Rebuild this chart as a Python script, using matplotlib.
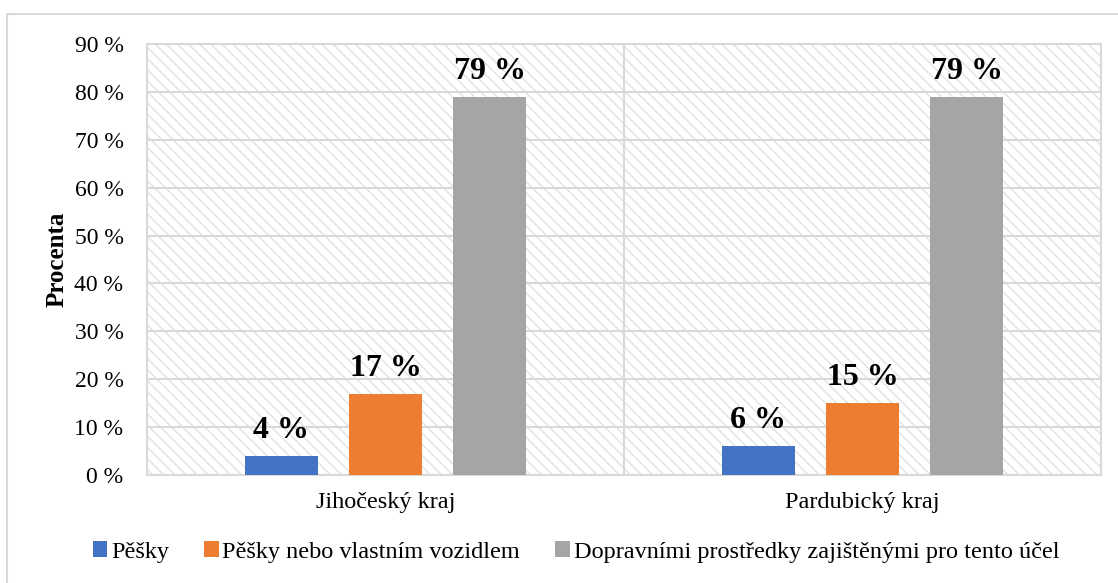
import matplotlib.pyplot as plt
from matplotlib.patches import Rectangle
import numpy as np

plt.rcParams['font.family'] = ['Liberation Serif', 'DejaVu Serif']
plt.rcParams['hatch.color'] = '#e2e2e2'
plt.rcParams['hatch.linewidth'] = 1.0

regions = ['Jihočeský kraj', 'Pardubický kraj']
series = ['Pěšky', 'Pěšky nebo vlastním vozidlem',
          'Dopravními prostředky zajištěnými pro tento účel']
values = [
    [4, 6],
    [17, 15],
    [79, 79],
]
colors = ['#4472C4', '#ED7D31', '#A5A5A5']

fig = plt.figure(figsize=(11.18, 5.83), dpi=100)
fig.patches.append(Rectangle((7 / 1118, -0.1), 1.2, 1.1 - 14 / 583,
                             transform=fig.transFigure, fill=False,
                             edgecolor='#d9d9d9', linewidth=1.5))
ax = fig.add_axes([147 / 1118, 1 - 475 / 583, (1101 - 147) / 1118, (475 - 44) / 583])

ax.patch.set_facecolor('white')
ax.patch.set_hatch('\\' * 3)
ax.patch.set_edgecolor('#e2e2e2')

x = np.arange(len(regions))
offsets = [-0.219, 0, 0.219]
for vals, off, col, name in zip(values, offsets, colors, series):
    bars = ax.bar(x + off, vals, width=0.153, color=col, label=name, zorder=3)
    for b, v in zip(bars, vals):
        ax.text(b.get_x() + b.get_width() / 2, v + 2.3, f'{v} %', ha='center',
                va='bottom', fontsize=23, fontweight='bold', zorder=4)

ax.set_xlim(-0.5, 1.5)
ax.set_ylim(0, 90)
ax.set_yticks(range(0, 91, 10))
ax.set_yticklabels([f'{t} %' for t in range(0, 91, 10)], fontsize=17)
ax.set_xticks(x)
ax.set_xticklabels(regions, fontsize=17.5)
ax.tick_params(axis='y', length=0, pad=17)
ax.tick_params(axis='x', length=0, pad=12)

ax.yaxis.grid(True, color='#d9d9d9', linewidth=1.5, zorder=1)
ax.axvline(0.5, color='#d9d9d9', linewidth=1.5, zorder=1)
ax.set_axisbelow(True)
for s in ax.spines.values():
    s.set_color('#d9d9d9')
    s.set_linewidth(1.5)

ax.set_ylabel('Procenta', fontsize=18, fontweight='bold', labelpad=4)

fig.legend(loc='center', bbox_to_anchor=(0.5 + 17 / 1118, 1 - 552 / 583), ncol=3,
           frameon=False, fontsize=17.5, handlelength=0.6, handleheight=0.6,
           handletextpad=0.15, columnspacing=1.45)

fig.savefig('out.png', dpi=100)
